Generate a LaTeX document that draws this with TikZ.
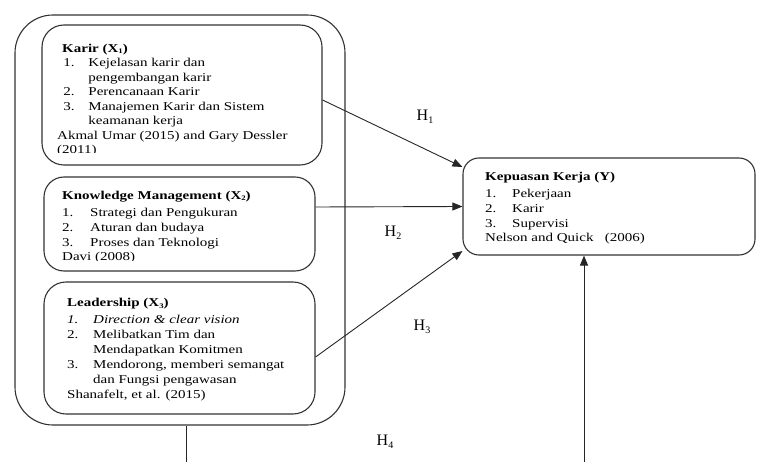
\documentclass[tikz,border=0pt]{standalone}
\usepackage{fontspec}
\setmainfont{Liberation Serif}
\usetikzlibrary{arrows.meta}
\newcommand{\mysub}[1]{\raisebox{-1.5pt}{\fontsize{7}{7}\selectfont #1}}
\newcommand{\hsub}[1]{\raisebox{-2.5pt}{\fontsize{10}{10}\selectfont #1}}
\newcommand{\wide}[1]{\scalebox{1.25}[1]{\begin{tabular}{@{}l@{}}#1\end{tabular}}}
\begin{document}
\begin{tikzpicture}[x=1pt,y=-1pt,
  frame/.style={draw=black!80,line width=1.1pt,inner sep=0pt},
  txt/.style={anchor=north west,inner sep=0pt,text=black},
  arr/.style={draw=black!85,line width=0.9pt,-{Triangle[length=10pt,width=8pt]}},
  link/.style={draw=black!85,line width=0.9pt},
  hlab/.style={inner sep=0pt,font=\fontsize{16}{16}\selectfont}]
\useasboundingbox (0,0) rectangle (757,462);
% boxes
\node[frame,rounded corners=38pt,minimum width=330pt,minimum height=410pt] (outer) at (180,220) {};
\node[frame,rounded corners=22pt,minimum width=280pt,minimum height=140pt] (kar) at (182,95) {};
\node[frame,rounded corners=20pt,minimum width=271pt,minimum height=94pt] (km) at (179.5,224) {};
\node[frame,rounded corners=22pt,minimum width=271pt,minimum height=132pt] (lead) at (179.5,348) {};
\node[frame,rounded corners=16pt,minimum width=292pt,minimum height=97pt] (Y) at (609,206.5) {};
% texts
\begin{scope}
\clip (40,20) rectangle (330,153);
\node[txt,font=\fontsize{12}{14.5}\selectfont] (kart) at (57,41.8) {\wide{\hspace*{4pt}\textbf{Karir (X\mysub{1})}\\
\hspace*{5pt}\makebox[20pt][l]{1.}Kejelasan karir dan\\
\hspace*{25pt}pengembangan karir\\
\hspace*{5pt}\makebox[20pt][l]{2.}Perencanaan Karir\\
\hspace*{5pt}\makebox[20pt][l]{3.}Manajemen Karir dan Sistem\\
\hspace*{25pt}keamanan kerja\\
Akmal Umar (2015) and Gary Dessler\\
(2011)}};
\end{scope}
\begin{scope}
\clip (40,170) rectangle (330,261);
\node[txt,font=\fontsize{12}{14.6}\selectfont] (kmt) at (62,188.8) {\wide{\textbf{Knowledge Management (X\mysub{2})}\\[3pt]
\makebox[22.4pt][l]{1.}Strategi dan Pengukuran\\
\makebox[22.4pt][l]{2.}Aturan dan budaya\\
\makebox[22.4pt][l]{3.}Proses dan Teknologi\\
Davi (2008)}};
\end{scope}
\node[txt,font=\fontsize{12}{15}\selectfont] (leadt) at (67,296.2) {\wide{\textbf{Leadership (X\mysub{3})}\\[1.7pt]
\makebox[20.8pt][l]{\textit{1.}}\textit{Direction \& clear vision}\\
\makebox[20.8pt][l]{2.}Melibatkan Tim dan\\
\hspace*{20.8pt}Mendapatkan Komitmen\\
\makebox[20.8pt][l]{3.}Mendorong, memberi semangat\\
\hspace*{20.8pt}dan Fungsi pengawasan\\
Shanafelt, et al. (2015)}};
\node[txt,font=\fontsize{12}{14.8}\selectfont] (Yt) at (485,169.6) {\wide{\textbf{Kepuasan Kerja (Y)}\\[2.6pt]
\makebox[21.6pt][l]{1.}Pekerjaan\\
\makebox[21.6pt][l]{2.}Karir\\
\makebox[21.6pt][l]{3.}Supervisi\\
Nelson and Quick~~ (2006)}};
% connectors
\draw[arr] ([yshift=-5pt]kar.east) -- ([yshift=39.5pt]Y.west);
\draw[arr] ([yshift=17pt]km.east) -- (Y.west);
\draw[arr] ([yshift=-9pt]lead.east) -- ([yshift=-44.5pt]Y.west);
\coordinate (b1) at (186.5,463);
\coordinate (b2) at (584,463);
\draw[link] ([xshift=6.5pt]outer.south) -- (b1);
\draw[arr] (b2) -- (b2 |- Y.south);
% labels
\node[hlab] (h1) at (425,117) {H\hsub{1}};
\node[hlab] (h2) at (393,233) {H\hsub{2}};
\node[hlab] (h3) at (422,327) {H\hsub{3}};
\node[hlab] (h4) at (385,442) {H\hsub{4}};
\end{tikzpicture}
\end{document}
